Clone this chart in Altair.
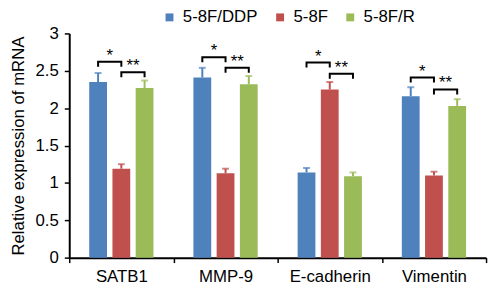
import altair as alt
import pandas as pd

genes = ["SATB1", "MMP-9", "E-cadherin", "Vimentin"]
groups = ["5-8F/DDP", "5-8F", "5-8F/R"]
colors = ["#4f81bd", "#c0504d", "#9bbb59"]

ddp = [2.35, 2.41, 1.14, 2.16]
f58 = [1.19, 1.13, 2.25, 1.10]
r58 = [2.27, 2.32, 1.09, 2.03]
ddp_err = [0.12, 0.13, 0.06, 0.12]
f58_err = [0.06, 0.06, 0.10, 0.05]
r58_err = [0.10, 0.11, 0.05, 0.09]

# significance brackets heights per gene
b1_h = [2.62, 2.68, 2.61, 2.41]
b2_h = [2.48, 2.54, 2.46, 2.25]
drop = 0.066
y_ticks = [0, 0.5, 1, 1.5, 2, 2.5, 3]

rows = []
for i, g in enumerate(genes):
    for grp, vals, errs in zip(groups, [ddp, f58, r58], [ddp_err, f58_err, r58_err]):
        rows.append({"gene": g, "group": grp, "value": vals[i], "top": vals[i] + errs[i]})
df = pd.DataFrame(rows)

brows = []
srows = []
for i, g in enumerate(genes):
    for k, (ga, gb, lab, hs) in enumerate([(groups[0], groups[1], "*", b1_h),
                                            (groups[1], groups[2], "**", b2_h)]):
        h = hs[i]
        bid = f"{g}-{k}"
        brows += [
            {"gene": g, "group": ga, "value": h - drop, "o": 0, "id": bid},
            {"gene": g, "group": ga, "value": h, "o": 1, "id": bid},
            {"gene": g, "group": gb, "value": h, "o": 2, "id": bid},
            {"gene": g, "group": gb, "value": h - drop, "o": 3, "id": bid},
        ]
        srows.append({"gene": g, "group": gb, "value": h, "label": lab})
bdf = pd.DataFrame(brows)
sdf = pd.DataFrame(srows)

FONT = "Liberation Sans"
FS = 17

xenc = alt.X("gene:N", sort=genes, scale=alt.Scale(paddingInner=0, paddingOuter=0),
             axis=alt.Axis(title=None, labelAngle=0, tickBand="extent"))
xoff = alt.XOffset("group:N", sort=groups, scale=alt.Scale(paddingInner=0.234, paddingOuter=0.86))
yscale = alt.Scale(domain=[0, 3], nice=False)
yaxis = alt.Axis(title="Relative expression of mRNA", values=y_ticks, format="~g",
                 labelOverlap=False, grid=False)
yenc = alt.Y("value:Q", scale=yscale, axis=yaxis)
color = alt.Color("group:N", sort=groups, scale=alt.Scale(domain=groups, range=colors),
                  legend=alt.Legend(title=None, orient="none", direction="horizontal",
                                    legendX=93, legendY=-25, symbolType="square",
                                    symbolSize=64, symbolStrokeWidth=0, labelOffset=5,
                                    columnPadding=14, padding=0, labelLimit=200))
color_nl = alt.Color("group:N", sort=groups, legend=None)

bars = alt.Chart(df).mark_bar().encode(x=xenc, xOffset=xoff, y=yenc, color=color)

err = alt.Chart(df).mark_rule(strokeWidth=2).encode(
    x=xenc, xOffset=xoff, y=yenc, y2="top:Q", color=color_nl)

caps = alt.Chart(df).mark_tick(size=7, thickness=2).encode(
    x=xenc, xOffset=xoff, y=alt.Y("top:Q", scale=yscale, axis=yaxis), color=color_nl)

brackets = alt.Chart(bdf).mark_line(color="black", strokeWidth=2).encode(
    x=xenc, xOffset=xoff, y=yenc, detail="id:N", order="o:Q")

stars = alt.Chart(sdf).mark_text(fontSize=17, font=FONT, color="black", dx=-11.75, dy=-1,
                                 baseline="alphabetic").encode(
    x=xenc, xOffset=xoff, y=yenc, text="label:N")

chart = alt.layer(bars, err, caps, brackets, stars).properties(
    width=422, height=227,
    autosize=alt.AutoSizeParams(type="none"),
    padding={"left": 62, "top": 24, "right": 5, "bottom": 30},
    background="white",
).configure_view(
    stroke=None
).configure_axis(
    labelFont=FONT, labelFontSize=FS, labelColor="black",
    titleFont=FONT, titleFontSize=FS, titleFontWeight="normal", titleColor="black",
    domainColor="black", domainWidth=2, tickColor="black", tickWidth=1.5, tickSize=5,
    labelPadding=6, grid=False,
).configure_axisY(
    titlePadding=8,
).configure_legend(
    labelFont=FONT, labelFontSize=FS, labelColor="black",
)

chart.save("out.html", embed_options={"renderer": "svg", "actions": False})
